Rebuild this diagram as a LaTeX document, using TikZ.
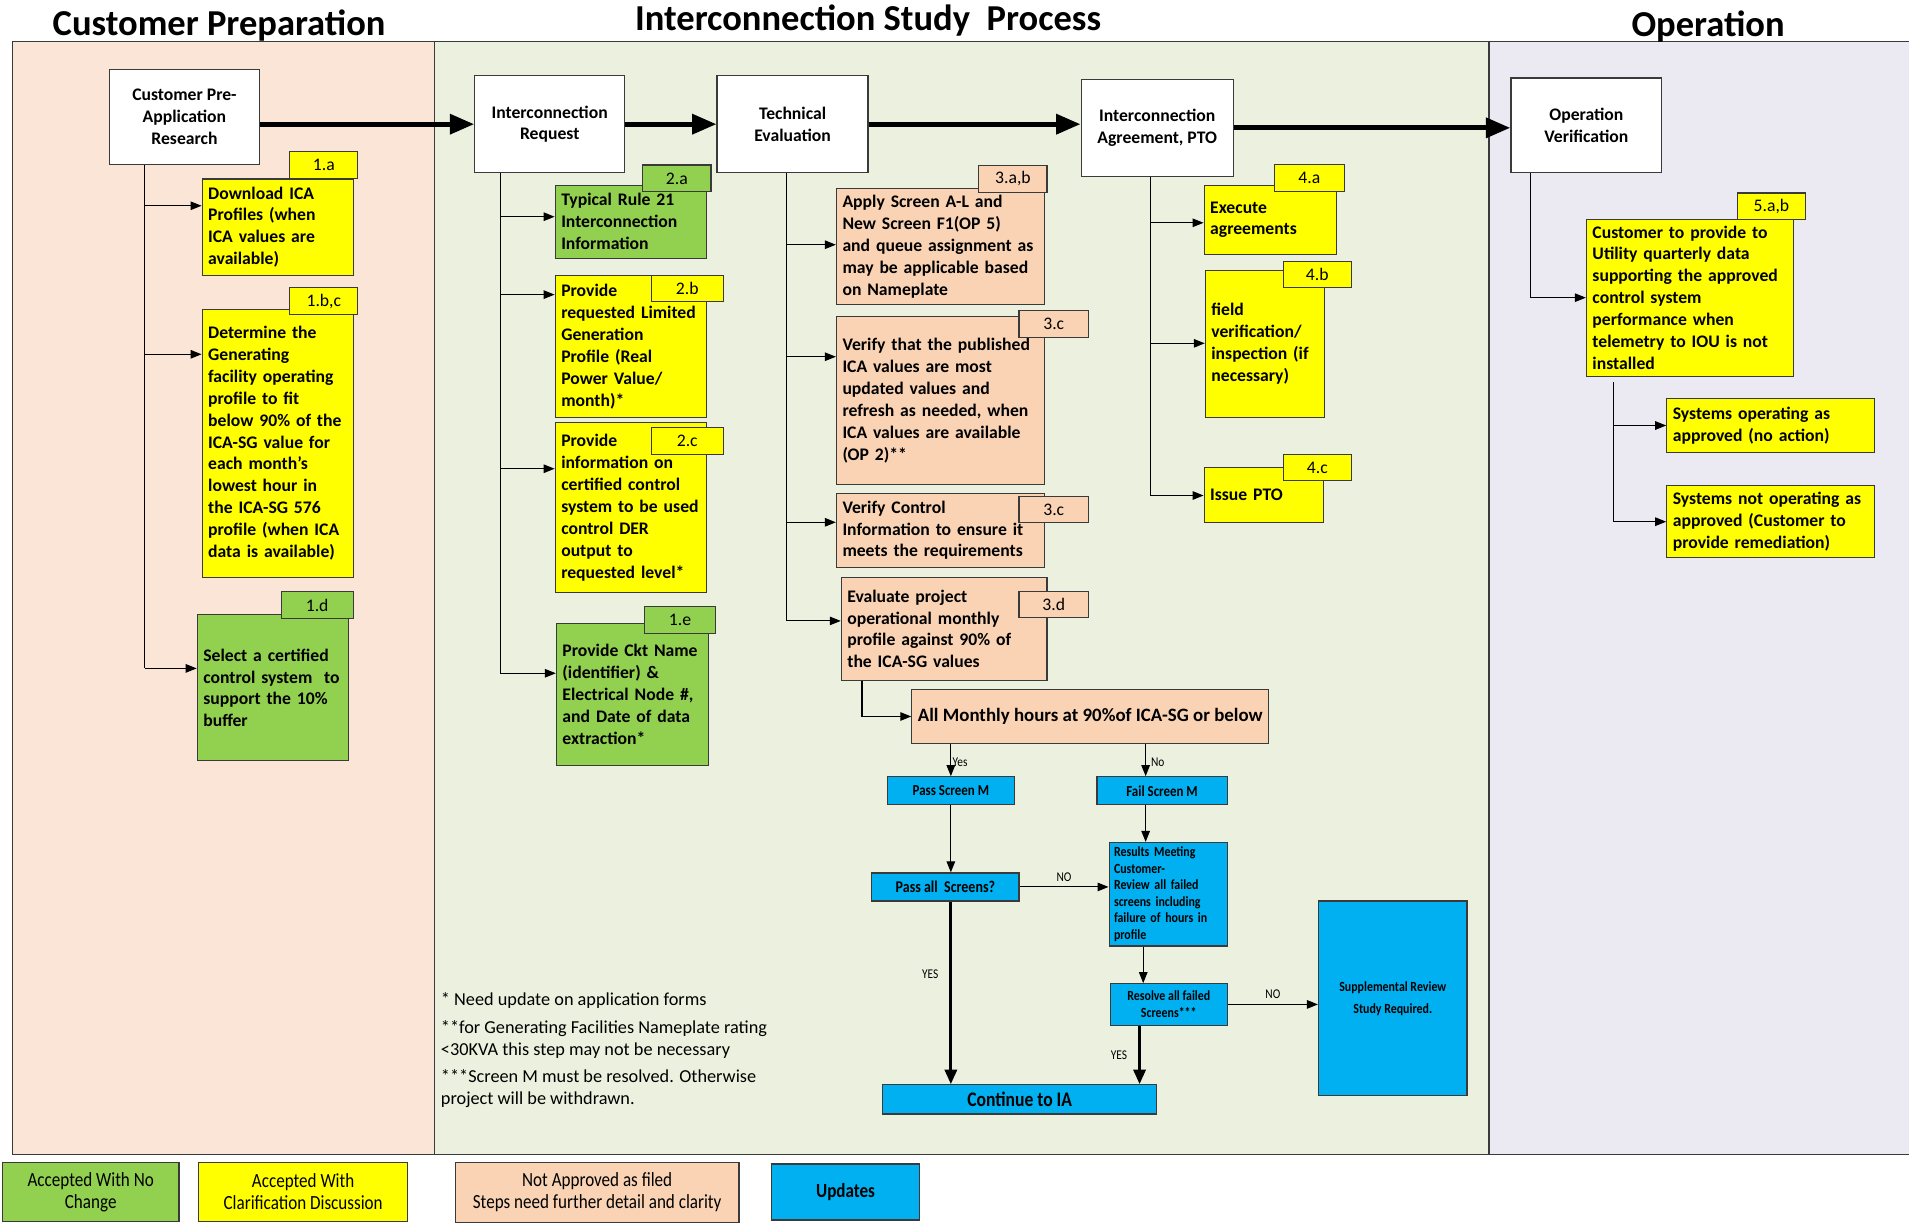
\documentclass[tikz,border=0pt]{standalone}
\usepackage{fontspec}
\setmainfont{Carlito}
\newfontfamily\narrowfont[FakeStretch=0.85]{Carlito}
\usetikzlibrary{arrows.meta, positioning}

\definecolor{lanecust}{HTML}{FBE5D6}
\definecolor{lanestudy}{HTML}{EBF1DE}
\definecolor{laneop}{HTML}{EBE9F1}
\definecolor{okgreen}{HTML}{92D050}
\definecolor{clarify}{HTML}{FFFF00}
\definecolor{notok}{HTML}{F9D3B4}
\definecolor{update}{HTML}{00B0F0}
\definecolor{edge}{HTML}{3A3A3A}

\begin{document}
\begin{tikzpicture}[
    x=1pt, y=-1pt,
    laneedge/.style={draw=edge, line width=1pt},
    lanetitle/.style={font=\fontsize{30}{34}\selectfont\bfseries},
    stage/.style={draw=edge, line width=1pt, fill=white, align=center, font=\fontsize{14.5}{18}\selectfont\bfseries},
    task/.style={draw=edge, line width=0.9pt, align=left, inner xsep=5pt, inner ysep=0pt, font=\fontsize{14.5}{18}\selectfont\bfseries},
    tag/.style={draw=edge, line width=0.9pt, minimum width=56pt, minimum height=22pt, inner sep=0pt, font=\fontsize{14.5}{16}\selectfont},
    screen/.style={draw=edge, line width=1pt, fill=update, align=center, inner sep=0pt, font=\narrowfont\fontsize{12.5}{14}\selectfont\bfseries},
    legendbox/.style={draw=edge, line width=1pt, align=center, inner sep=0pt, font=\narrowfont\fontsize{16.5}{18}\selectfont},
    note/.style={align=left, anchor=north west, inner sep=0pt, font=\fontsize{15}{18}\selectfont},
    yesno/.style={font=\narrowfont\fontsize{11}{12}\selectfont, inner sep=1pt},
    conn/.style={draw=black, line width=0.9pt},
    arrow/.style={conn, -{Triangle[length=9pt, width=7pt]}},
    bigarrow/.style={draw=black, line width=4pt, -{Triangle[length=20pt, width=16pt]}},
    yesarrow/.style={draw=black, line width=2.5pt, -{Triangle[length=12pt, width=10pt]}}
]
\useasboundingbox (0,0) rectangle (1568,1006);

% ============ SWIM LANES ============
\fill[lanecust] (10,34) rectangle (357,948);
\fill[lanestudy] (357,34) rectangle (1223,948);
\fill[laneop] (1223,34) rectangle (1568,948);
\draw[laneedge] (1568,34) -- (10,34) -- (10,948) -- (1568,948);
\draw[laneedge] (357,34) -- (357,948);
\draw[laneedge] (1223,34) -- (1223,948);

% Lane titles
\node[lanetitle] (tprep) at (180,21) {Customer Preparation};
\node[lanetitle] (tstudy) at (713,17) {Interconnection Study\ \ Process};
\node[lanetitle] (toper) at (1403,22) {Operation};

% ============ MAIN STAGES ============
\node[stage, minimum width=123pt, minimum height=78pt] (pre) at (151.5,96) {Customer Pre-\\Application\\Research};
\node[stage, minimum width=123pt, minimum height=80pt] (req) at (451.5,102) {Interconnection\\Request};
\node[stage, minimum width=124pt, minimum height=80pt] (tech) at (651,102) {Technical\\Evaluation};
\node[stage, minimum width=125pt, minimum height=80pt] (agree) at (950.5,105) {Interconnection\\Agreement, PTO};
\node[stage, minimum width=124pt, minimum height=78pt] (opver) at (1303,103) {Operation\\Verification};

\draw[bigarrow] (pre.east |- req.west) -- (req.west);
\draw[bigarrow] (req.east) -- (req.east -| tech.west);
\draw[bigarrow] (tech.east) -- (tech.east -| agree.west);
\draw[bigarrow] (agree.east) -- (agree.east -| opver.west);

% ============ CUSTOMER PREPARATION ============
\node[task, fill=clarify, text width=114pt, minimum height=79pt] (dl) at (228,186.5) {Download ICA\\Profiles (when\\ICA values are\\available)};
\node[tag, fill=clarify] (dlt) at (266,135.5) {1.a};
\node[task, fill=clarify, text width=114pt, minimum height=220pt] (prof) at (228,364) {Determine the\\Generating\\facility operating\\profile to fit\\below 90\% of the\\ICA-SG value for\\each month’s\\lowest hour in\\the ICA-SG 576\\profile (when ICA\\data is available)};
\node[tag, fill=clarify] (proft) at (266,247.5) {1.b,c};
\node[task, fill=okgreen, text width=114pt, minimum height=120pt] (sel) at (224,565) {Select a certified\\control system\ \ to\\support the 10\%\\buffer};
\node[tag, fill=okgreen, minimum width=59pt] (selt) at (260.5,497) {1.d};

\coordinate (jdl) at (119,169);
\coordinate (jprof) at (119,291);
\coordinate (jsel) at (119,549);
\draw[conn] (pre.south -| jdl) -- (jsel);
\draw[arrow] (jdl) -- (jdl -| dl.west);
\draw[arrow] (jprof) -- (jprof -| prof.west);
\draw[arrow] (jsel) -- (jsel -| sel.west);

% ============ INTERCONNECTION REQUEST ============
\node[task, fill=okgreen, text width=114pt, minimum height=60pt] (rule) at (518,182) {Typical Rule 21\\Interconnection\\Information};
\node[tag, fill=okgreen] (rulet) at (556,146.5) {2.a};
\node[task, fill=clarify, text width=114pt, minimum height=117pt] (lgp) at (518,284.5) {Provide\\requested Limited\\Generation\\Profile (Real\\Power Value/\\month)*};
\node[tag, fill=clarify, minimum width=59pt] (lgpt) at (564.5,237) {2.b};
\node[task, fill=clarify, text width=114pt, minimum height=140pt] (ccs) at (518,417) {Provide\\information on\\certified control\\system to be used\\control DER\\output to\\requested level*};
\node[tag, fill=clarify, minimum width=59pt] (ccst) at (564.5,362) {2.c};
\node[task, fill=okgreen, text width=115pt, minimum height=117pt] (ckt) at (519.5,570.5) {Provide Ckt Name\\(identifier) \&\\Electrical Node \#,\\and Date of data\\extraction*};
\node[tag, fill=okgreen, minimum width=59pt] (cktt) at (558.5,509) {1.e};

\coordinate (jrule) at (411,178);
\coordinate (jlgp) at (411,242);
\coordinate (jccs) at (411,385);
\coordinate (jckt) at (411,553);
\draw[conn] (req.south -| jrule) -- (jckt);
\draw[arrow] (jrule) -- (jrule -| rule.west);
\draw[arrow] (jlgp) -- (jlgp -| lgp.west);
\draw[arrow] (jccs) -- (jccs -| ccs.west);
\draw[arrow] (jckt) -- (jckt -| ckt.west);

% ============ TECHNICAL EVALUATION ============
\node[task, fill=notok, text width=161pt, minimum height=95pt] (scr) at (772.5,202.5) {Apply Screen A-L and\\New Screen F1(OP 5)\\and queue assignment as\\may be applicable based\\on Nameplate};
\node[tag, fill=notok] (scrt) at (832,147) {3.a,b};
\node[task, fill=notok, text width=161pt, minimum height=138pt] (ica) at (772.5,329) {Verify that the published\\ICA values are most\\updated values and\\refresh as needed, when\\ICA values are available\\(OP 2)**};
\node[tag, fill=notok, minimum width=57pt] (icat) at (865.5,266) {3.c};
\node[task, fill=notok, text width=161pt, minimum height=61pt] (ctl) at (772.5,435.5) {Verify Control\\Information to ensure it\\meets the requirements};
\node[tag, fill=notok, minimum width=57pt] (ctlt) at (865.5,418.5) {3.c};
\node[task, fill=notok, text width=159pt, minimum height=85pt] (eval) at (775.5,516.5) {Evaluate project\\operational monthly\\profile against 90\% of\\the ICA-SG values};
\node[tag, fill=notok, minimum width=57pt] (evalt) at (865.5,496.5) {3.d};

\coordinate (jscr) at (646,201);
\coordinate (jica) at (646,293);
\coordinate (jctl) at (646,429);
\coordinate (jeval) at (646,510);
\draw[conn] (tech.south -| jscr) -- (jeval);
\draw[arrow] (jscr) -- (jscr -| scr.west);
\draw[arrow] (jica) -- (jica -| ica.west);
\draw[arrow] (jctl) -- (jctl -| ctl.west);
\draw[arrow] (jeval) -- (jeval -| eval.west);

% Screen M decision
\node[task, fill=notok, align=center, minimum width=289pt, minimum height=45pt, font=\fontsize{15.5}{18}\selectfont\bfseries] (allm) at (895.5,588.5) {All Monthly hours at 90\%of ICA-SG or below};
\coordinate (evx) at (708,0);
\draw[arrow] (eval.south -| evx) |- (allm.west);

\node[screen, minimum width=104pt, minimum height=23pt] (pass) at (781,649.5) {Pass Screen M};
\node[screen, minimum width=107pt, minimum height=23pt] (fail) at (954.5,649.5) {Fail Screen M};
\node[screen, minimum width=121pt, minimum height=23pt, font=\narrowfont\fontsize{13.5}{14}\selectfont\bfseries] (passall) at (776.5,728.5) {Pass all\ \ Screens?};
\node[screen, align=left, text width=89pt, inner xsep=4pt, minimum height=85pt, font=\narrowfont\fontsize{11.5}{13.5}\selectfont\bfseries] (results) at (959.5,734.5) {Results Meeting\\Customer-\\Review all failed\\screens including\\failure of hours in\\profile};
\node[screen, minimum width=96pt, minimum height=34pt, font=\narrowfont\fontsize{11.5}{14}\selectfont\bfseries] (resolve) at (960,825) {Resolve all failed\\Screens***};
\node[screen, minimum width=122pt, minimum height=160pt, font=\narrowfont\fontsize{11.5}{18}\selectfont\bfseries] (supp) at (1144,820) {Supplemental Review\\Study Required.};
\node[screen, minimum width=225pt, minimum height=24pt, font=\narrowfont\fontsize{17}{18}\selectfont\bfseries] (cont) at (837.5,903) {Continue to IA};

\coordinate (failx) at (941,0);
\coordinate (resx) at (936,0);
\draw[arrow] (allm.south -| pass.north) -- (pass.north) node[yesno, right, pos=0.55] {Yes};
\draw[arrow] (allm.south -| failx) -- (fail.north -| failx) node[yesno, right=3pt, pos=0.55] {No};
\draw[arrow] (pass.south) -- (passall.north -| pass.south);
\draw[arrow] (fail.south -| failx) -- (results.north -| failx);
\draw[arrow] (passall.east) -- (passall.east -| results.west) node[yesno, above=3pt, midway] {NO};
\draw[arrow] (results.south -| 939,0) -- (resolve.north -| 939,0);
\draw[arrow] (resolve.east) -- (resolve.east -| supp.west) node[yesno, above=3pt, midway] {NO};
\draw[yesarrow] (passall.south -| pass.south) -- (cont.north -| pass.south) node[yesno, left=8pt, pos=0.4] {YES};
\draw[yesarrow] (resolve.south -| resx) -- (cont.north -| resx) node[yesno, left=8pt, pos=0.5] {YES};

% Footnotes
\node[note] (notes) at (362,815) {* Need update on application forms\\[5pt]**for Generating Facilities Nameplate rating\\<30KVA this step may not be necessary\\[4pt]***Screen M must be resolved. Otherwise\\project will be withdrawn.};

% ============ AGREEMENT, PTO ============
\node[task, fill=clarify, text width=99pt, minimum height=57pt] (exe) at (1043.5,180.5) {Execute\\agreements};
\node[tag, fill=clarify, minimum width=57pt] (exet) at (1075.5,146) {4.a};
\node[task, fill=clarify, text width=88pt, minimum height=121pt] (fld) at (1039,282.5) {field\\verification/\\inspection (if\\necessary)};
\node[tag, fill=clarify] (fldt) at (1082,225.5) {4.b};
\node[task, fill=clarify, text width=88pt, minimum height=45pt] (pto) at (1038,406.5) {Issue PTO};
\node[tag, fill=clarify] (ptot) at (1082,384) {4.c};

\coordinate (jexe) at (945,183);
\coordinate (jfld) at (945,282);
\coordinate (jpto) at (945,407);
\draw[conn] (agree.south -| jexe) -- (jpto);
\draw[arrow] (jexe) -- (jexe -| exe.west);
\draw[arrow] (jfld) -- (jfld -| fld.west);
\draw[arrow] (jpto) -- (jpto -| pto.west);

% ============ OPERATION ============
\node[task, fill=clarify, text width=160pt, minimum height=129pt] (qdata) at (1388,244.5) {Customer to provide to\\Utility quarterly data\\supporting the approved\\control system\\performance when\\telemetry to IOU is not\\installed};
\node[tag, fill=clarify] (qdatat) at (1455,169.5) {5.a,b};
\node[task, fill=clarify, text width=161pt, minimum height=45pt] (sysok) at (1454.5,349.5) {Systems operating as\\approved (no action)};
\node[task, fill=clarify, text width=161pt, minimum height=59pt] (sysno) at (1454.5,428.5) {Systems not operating as\\approved (Customer to\\provide remediation)};

\coordinate (ovx) at (1257,0);
\draw[arrow] (opver.south -| ovx) |- (qdata.west);
\coordinate (jop) at (1325,314);
\draw[arrow] (jop) |- (sysok.west);
\draw[arrow] (jop) |- (sysno.west);

% ============ LEGEND ============
\node[legendbox, fill=okgreen, minimum width=145pt, minimum height=48pt] (lgok) at (74.5,979) {Accepted With No\\Change};
\node[legendbox, fill=clarify, minimum width=172pt, minimum height=48pt] (lgcl) at (249,979) {Accepted With\\Clarification Discussion};
\node[legendbox, fill=notok, minimum width=233pt, minimum height=49pt] (lgno) at (490.5,979.5) {Not Approved as filed\\Steps need further detail and clarity};
\node[legendbox, fill=update, minimum width=121pt, minimum height=46pt, font=\narrowfont\fontsize{16.5}{18}\selectfont\bfseries] (lgup) at (694.5,979) {Updates};

\end{tikzpicture}
\end{document}
